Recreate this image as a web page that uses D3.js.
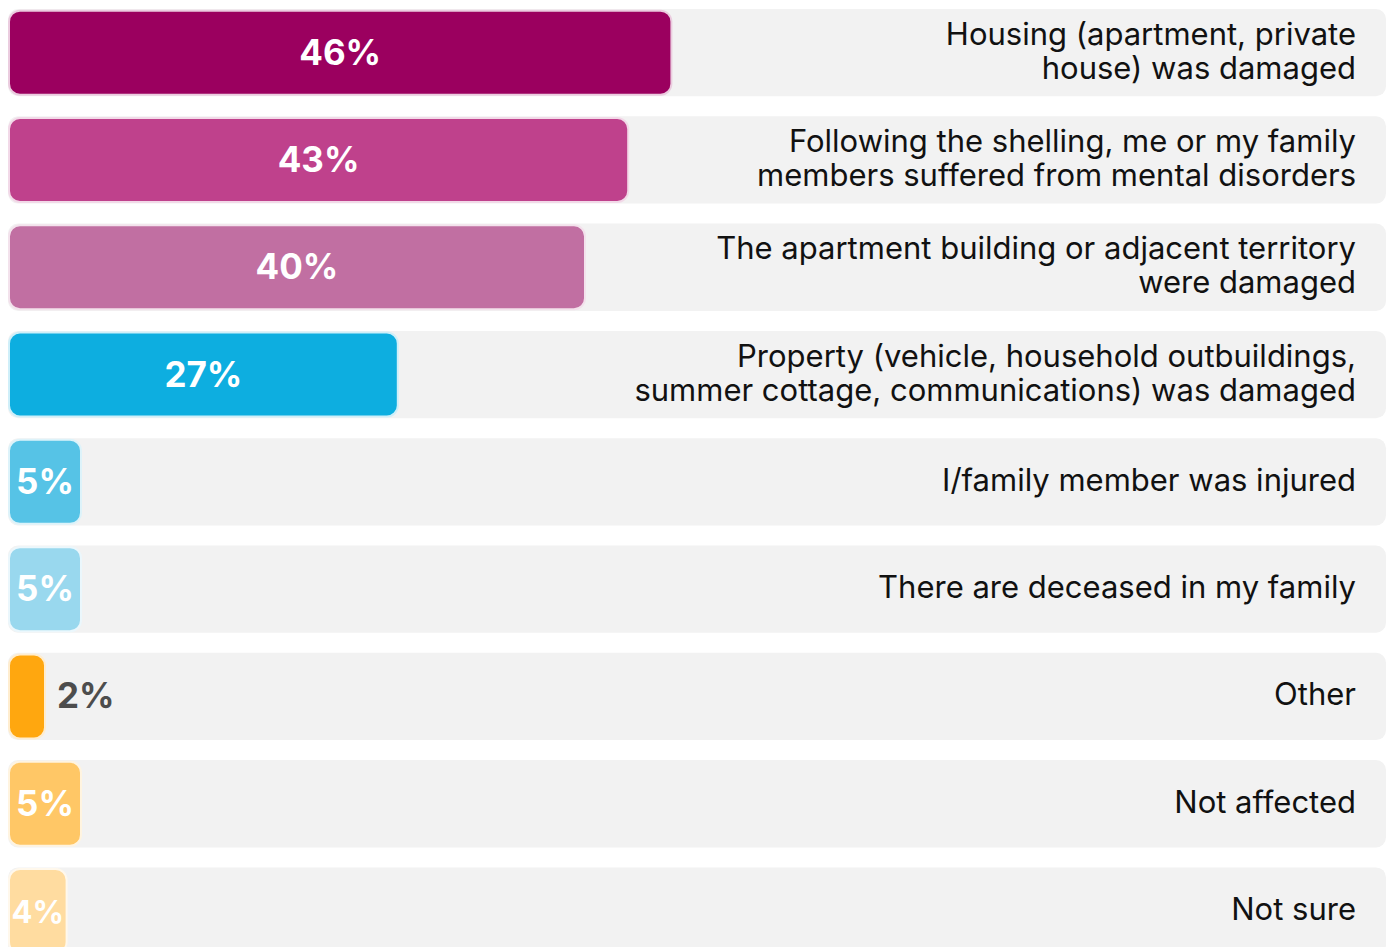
<!DOCTYPE html>
<html>
<head>
<meta charset="utf-8">
<script src="https://cdn.jsdelivr.net/npm/d3@7"></script>
<style>
  body { margin: 0; background: #fff; }
  text { font-family: Inter, "Noto Sans", sans-serif; }
</style>
</head>
<body>
<div id="chart"></div>
<script>
// data
var labels = [
  ["Housing (apartment, private", "house) was damaged"],
  ["Following the shelling, me or my family", "members suffered from mental disorders"],
  ["The apartment building or adjacent territory", "were damaged"],
  ["Property (vehicle, household outbuildings,", "summer cottage, communications) was damaged"],
  ["I/family member was injured"],
  ["There are deceased in my family"],
  ["Other"],
  ["Not affected"],
  ["Not sure"]
];
var values = [46, 43, 40, 27, 5, 5, 2, 5, 4];
var colors = ["#9b005f", "#bf418c", "#c16fa2", "#0daee0", "#56c3e6", "#99d8ee", "#ffa70f", "#ffc766", "#ffdca0"];

var width = 1393, height = 947;
var left = 8, right = 1386, step = 107.3, gap = 20, barH = 84;

var svg = d3.select("#chart")
  .append("svg")
    .attr("width", width)
    .attr("height", height);

// rows
var y = d3.scaleBand()
  .domain(d3.range(values.length))
  .range([9, 9 + step * values.length - gap])
  .paddingInner(gap / step)
  .paddingOuter(0);

// bar length
var x = d3.scaleLinear()
  .domain([0, 50])
  .range([0, 720]);

var row = svg.selectAll("g.row")
  .data(values)
  .enter().append("g")
    .attr("class", "row")
    .attr("transform", function(d, i) { return "translate(0," + y(i) + ")"; });

// grey background
row.append("rect")
  .attr("x", left)
  .attr("y", 0)
  .attr("width", right - left)
  .attr("height", y.bandwidth())
  .attr("rx", 10)
  .attr("fill", "#f2f2f2");

// bars
row.append("rect")
  .attr("x", left + 1)
  .attr("y", (y.bandwidth() - barH) / 2)
  .attr("width", function(d) { return Math.max(x(d), 36); })
  .attr("height", barH)
  .attr("rx", 11)
  .attr("fill", function(d, i) { return colors[i]; })
  .attr("stroke", function(d, i) { return d3.interpolateRgb(colors[i], "#fff")(0.8); })
  .attr("stroke-width", 2);

// value labels
row.append("text")
  .attr("x", function(d) {
    var w = Math.max(x(d), 36);
    return d < 3 ? left + 1 + w + 12 : left + 1 + w / 2;
  })
  .attr("y", y.bandwidth() / 2 + 12)
  .attr("text-anchor", function(d) { return d < 3 ? "start" : "middle"; })
  .attr("font-size", function(d) { return d < 5 && d >= 3 ? 31 : 35; })
  .attr("font-weight", 700)
  .attr("fill", function(d) { return d < 3 ? "#4d4d4d" : "#fff"; })
  .text(function(d) { return d + "%"; });

// category labels
row.append("text")
  .attr("text-anchor", "end")
  .attr("font-size", 31)
  .attr("fill", "#111")
  .each(function(d, i) {
    var lines = labels[i];
    var t = d3.select(this);
    lines.forEach(function(l, j) {
      t.append("tspan")
        .attr("x", 1356)
        .attr("y", y.bandwidth() / 2 + 9 + (j - (lines.length - 1) / 2) * 34)
        .text(l);
    });
  });
</script>
</body>
</html>
